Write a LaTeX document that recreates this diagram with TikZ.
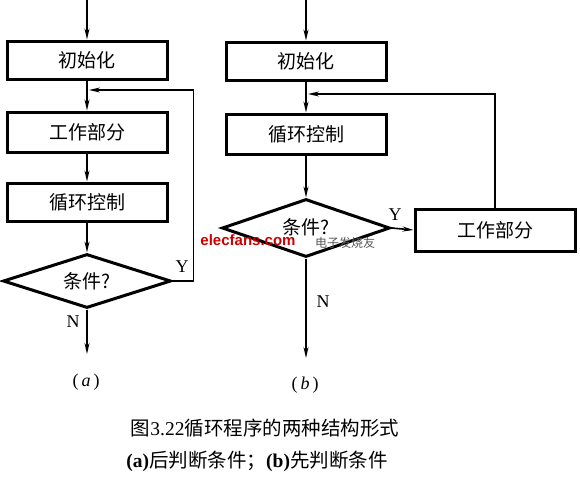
\documentclass[tikz,border=0pt]{standalone}
\usepackage{fontspec}
\setmainfont{Liberation Serif}
\newfontfamily\cjk{Noto Sans CJK SC}
\newfontfamily\wmfont{Liberation Sans}
\usetikzlibrary{shapes.geometric,arrows.meta}
\begin{document}
\begin{tikzpicture}[x=1pt,y=-1pt,
  box/.style={draw,line width=3pt,minimum width=160pt,minimum height=38pt,inner sep=0pt,
    font=\cjk\fontsize{19}{19}\selectfont},
  cond/.style={draw,diamond,line width=3pt,minimum width=168pt,minimum height=54pt,aspect=3.2,inner sep=0pt,
    font=\cjk\fontsize{19}{19}\selectfont},
  arr/.style={-{Stealth[length=11pt,width=5pt]},line width=1.6pt},
  lbl/.style={font=\fontsize{18}{18}\selectfont,inner sep=0pt},
  captext/.style={font=\fontsize{19.5}{19.5}\selectfont,inner sep=0pt}]
\useasboundingbox (0,0) rectangle (580,483);
\fill[white] (0,0) rectangle (580,483);

% ---------- (a) ----------
\coordinate (topA) at (87,0);
\node[box] (initA) at (87,60) {初始化};
\node[box,minimum height=40pt] (workA) at (87,132) {工作部分};
\node[box] (ctrlA) at (87,202) {循环控制};
\node[cond] (diamA) at (87,281) {条件?};
\coordinate (joinA) at (89,90);
\coordinate (endA) at (87,354);
\draw[arr] (topA) -- (initA.north);
\draw[arr] (initA.south) -- (workA.north);
\draw[arr] (workA.south) -- (ctrlA.north);
\draw[arr] (ctrlA.south) -- (diamA.north);
\draw[arr] (diamA.east) -- ++(21,0) |- (joinA);
\draw[arr] (diamA.south) -- (endA);
\node[lbl] (yA) at (182,267) {Y};
\node[lbl] (nA) at (73,322) {N};
\node[lbl] (labA) at (86,382) {(\,\textit{a}\,)};

% ---------- (b) ----------
\coordinate (topB) at (306,0);
\node[box] (initB) at (306,61) {初始化};
\node[box,minimum height=40pt] (ctrlB) at (306,134) {循环控制};
\node[cond,minimum height=58pt] (diamB) at (306,228) {\raisebox{4pt}{条件?}};
\node[box,minimum height=42pt] (workB) at (495,230) {工作部分};
\coordinate (joinB) at (308,94);
\coordinate (endB) at (306,358);
\draw[arr] (topB) -- (initB.north);
\draw[arr] (initB.south) -- (ctrlB.north);
\draw[arr] (ctrlB.south) -- (diamB.north);
\draw[arr] (diamB.east) -- (workB.west);
\draw[arr] (workB.north) |- (joinB);
\draw[arr] (diamB.south) -- (endB);
\node[lbl] (yB) at (395,215) {Y};
\node[lbl] (nB) at (323,302) {N};
\node[lbl] (labB) at (305,385) {(\,\textit{b}\,)};

% watermark
\node[inner sep=0pt,font=\wmfont\bfseries\fontsize{15}{15}\selectfont,text=red!80!black] (wm1) at (248,240) {elecfans.com};
\node[inner sep=0pt,font=\cjk\fontsize{12}{12}\selectfont,text=black!65] (wm2) at (345,243) {电子发烧友};

% caption
\node[captext] (cap1) at (265,428) {{\cjk 图}3.22{\cjk 循环程序的两种结构形式}};
\node[captext] (cap2) at (257,461) {\textbf{(a)}{\cjk 后判断条件；}\textbf{(b)}{\cjk 先判断条件}};
\end{tikzpicture}
\end{document}
